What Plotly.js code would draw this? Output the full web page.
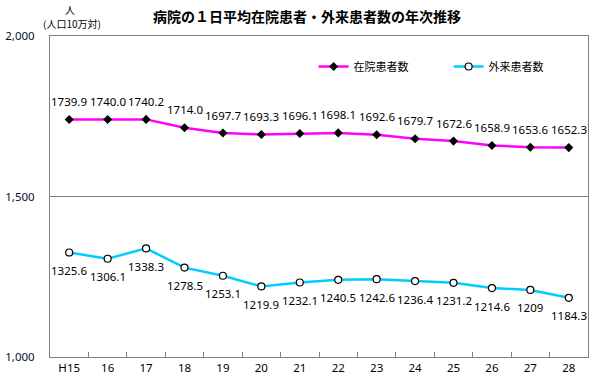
<!DOCTYPE html>
<html>
<head>
<meta charset="utf-8">
<script src="https://cdn.plot.ly/plotly-3.0.1.min.js"></script>
<style>html,body{margin:0;padding:0;background:#fff;}#chart{width:596px;height:382px;}</style>
</head>
<body>
<div id="chart"></div>
<script>
var years = ["H15","16","17","18","19","20","21","22","23","24","25","26","27","28"];
var inpatient = [1739.9,1740.0,1740.2,1714.0,1697.7,1693.3,1696.1,1698.1,1692.6,1679.7,1672.6,1658.9,1653.6,1652.3];
var inpatientLabels = ["1739.9","1740.0","1740.2","1714.0","1697.7","1693.3","1696.1","1698.1","1692.6","1679.7","1672.6","1658.9","1653.6","1652.3"];
var outpatient = [1325.6,1306.1,1338.3,1278.5,1253.1,1219.9,1232.1,1240.5,1242.6,1236.4,1231.2,1214.6,1209,1184.3];
var outpatientLabels = ["1325.6","1306.1","1338.3","1278.5","1253.1","1219.9","1232.1","1240.5","1242.6","1236.4","1231.2","1214.6","1209","1184.3"];
var yTicks = [1000,1500,2000];
var yTickLabels = ["1,000","1,500","2,000"];

var numFont = {family:"Noto Sans, DejaVu Sans, sans-serif", size:11.5, color:"#000"};
var jpFont = "Noto Sans CJK JP, sans-serif";

var traces = [
  {x: years, y: inpatient, name: "在院患者数", type: "scatter", mode: "lines+markers",
   line: {color: "#FF00FF", width: 2.5},
   marker: {symbol: "diamond", size: 7, color: "#000"}},
  {x: years, y: outpatient, name: "外来患者数", type: "scatter", mode: "lines+markers",
   line: {color: "#00CCFF", width: 2.5},
   marker: {symbol: "circle", size: 7, color: "#fff", line: {color: "#000", width: 1.2}}}
];

var ann = [];
for (var i = 0; i < years.length; i++) {
  ann.push({x: i, y: inpatient[i], xref: "x", yref: "y", text: inpatientLabels[i], showarrow: false, yshift: 18, font: numFont});
  ann.push({x: i, y: outpatient[i], xref: "x", yref: "y", text: outpatientLabels[i], showarrow: false, yshift: -18, font: numFont});
}
ann.push({xref: "paper", yref: "paper", x: 0.037, y: 1.084, xanchor: "center", yanchor: "middle", text: "人", showarrow: false, font: {family: jpFont, size: 10, color: "#000"}});
ann.push({xref: "paper", yref: "paper", x: 0.041, y: 1.040, xanchor: "center", yanchor: "middle", text: "(人口10万対)", showarrow: false, font: {family: jpFont, size: 10, color: "#000"}});

var layout = {
  width: 596, height: 382,
  margin: {l: 50, r: 8, t: 36, b: 25, autoexpand: false},
  paper_bgcolor: "#fff", plot_bgcolor: "#fff",
  showlegend: true,
  legend: {orientation: "h", x: 0.49, y: 0.905, xanchor: "left", yanchor: "middle",
           font: {family: jpFont, size: 11, color: "#000"}, bgcolor: "rgba(0,0,0,0)",
           itemwidth: 30, entrywidth: 90, entrywidthmode: "pixels"},
  title: {text: "<b>病院の１日平均在院患者・外来患者数の年次推移</b>", x: 0.515, xanchor: "center", y: 0.955, yanchor: "middle",
          font: {family: jpFont, size: 14, color: "#000"}},
  xaxis: {type: "category", range: [-0.5, 13.5], showline: true, linecolor: "#808080", linewidth: 1, mirror: true,
          ticks: "inside", tickson: "boundaries", ticklen: 5, tickcolor: "#808080", showgrid: false,
          tickfont: numFont, tickangle: 0, automargin: false, fixedrange: true},
  yaxis: {range: [1000, 2000], tickvals: yTicks, ticktext: yTickLabels, showline: true, linecolor: "#808080", linewidth: 1, mirror: true,
          ticks: "", showgrid: true, gridcolor: "#808080", gridwidth: 1, zeroline: false, automargin: false,
          tickfont: {family: "Noto Sans, DejaVu Sans, sans-serif", size: 11.5, color: "#0a1030"}, ticklabelstandoff: 12},
  annotations: ann
};

Plotly.newPlot("chart", traces, layout, {displayModeBar: false, staticPlot: true});
</script>
</body>
</html>
